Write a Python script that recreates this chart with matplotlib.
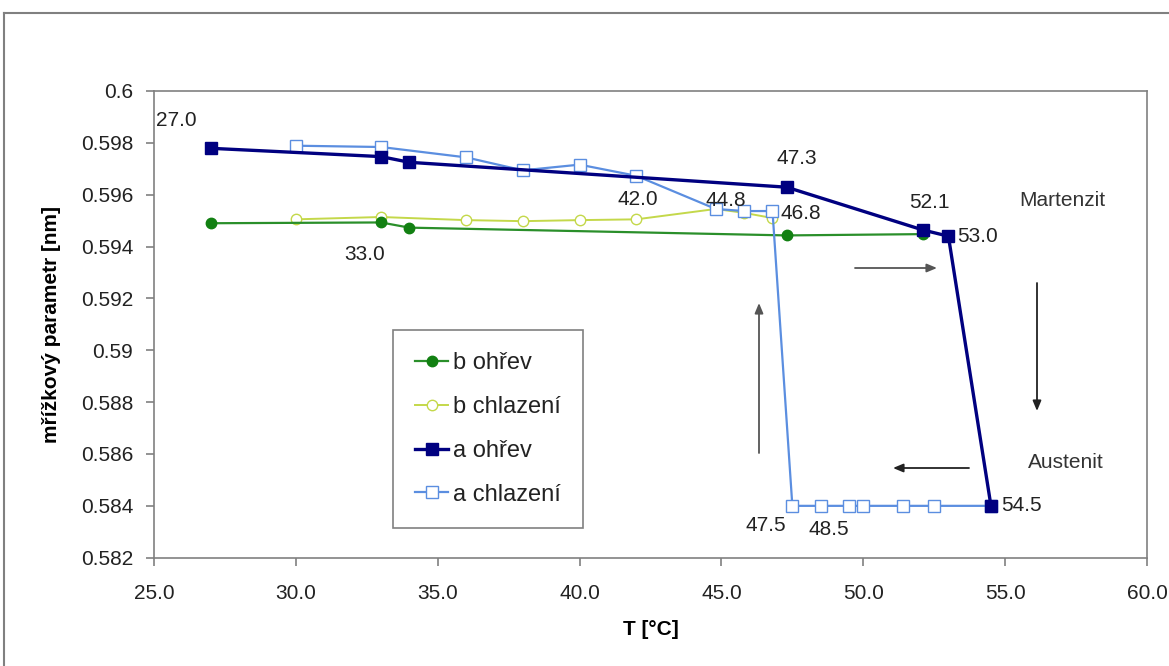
import matplotlib
matplotlib.use("Agg")
import matplotlib.pyplot as plt
from matplotlib.lines import Line2D

plt.rcParams['font.family'] = ['Liberation Sans', 'DejaVu Sans']

# ---- data ----
a_heat_T = [27.0, 33.0, 34.0, 47.3, 52.1, 53.0, 54.5]
a_heat_v = [0.59779, 0.59747, 0.59725, 0.59629, 0.59464, 0.59440, 0.58400]

a_cool_T = [54.5, 52.5, 51.4, 50.0, 49.5, 48.5, 47.5, 46.8, 45.8, 44.8, 42.0, 40.0, 38.0, 36.0, 33.0, 30.0]
a_cool_v = [0.58400, 0.58400, 0.58400, 0.58400, 0.58400, 0.58400, 0.58400,
            0.59537, 0.59537, 0.59545, 0.59673, 0.59716, 0.59694, 0.59744, 0.59784, 0.59789]

b_heat_T = [27.0, 33.0, 34.0, 47.3, 52.1]
b_heat_v = [0.59490, 0.59493, 0.59473, 0.59443, 0.59448]

b_cool_T = [46.8, 45.8, 44.8, 42.0, 40.0, 38.0, 36.0, 33.0, 30.0]
b_cool_v = [0.59510, 0.59530, 0.59545, 0.59505, 0.59502, 0.59498, 0.59502, 0.59514, 0.59505]

series_names = ["b ohřev", "b chlazení", "a ohřev", "a chlazení"]

x_ticks = [25.0, 30.0, 35.0, 40.0, 45.0, 50.0, 55.0, 60.0]
y_ticks = [0.582, 0.584, 0.586, 0.588, 0.59, 0.592, 0.594, 0.596, 0.598, 0.6]
y_tick_labels = ["0.582", "0.584", "0.586", "0.588", "0.59", "0.592", "0.594", "0.596", "0.598", "0.6"]

# point labels: (text, T, value)
point_labels = [
    ("27.0", 27.0, 0.59779), ("33.0", 33.0, 0.59493), ("42.0", 42.0, 0.59673),
    ("44.8", 44.8, 0.59545), ("46.8", 46.8, 0.59537), ("47.3", 47.3, 0.59629),
    ("52.1", 52.1, 0.59464), ("53.0", 53.0, 0.59440), ("54.5", 54.5, 0.58400),
    ("47.5", 47.5, 0.58400), ("48.5", 48.5, 0.58400),
]
# offsets (points) and alignment for labels
label_offsets = {
    "27.0": (-25, 20, 'center'), "33.0": (-12, -23, 'center'), "42.0": (1, -17, 'center'),
    "44.8": (7, 6, 'center'), "46.8": (6, -2, 'left'), "47.3": (7, 21, 'center'),
    "52.1": (5, 20, 'center'), "53.0": (6, 0, 'left'), "54.5": (7, 0, 'left'),
    "47.5": (-19, -14, 'center'), "48.5": (6, -17, 'center'),
}

W, H = 1169, 666
fig = plt.figure(figsize=(W / 100, H / 100), dpi=100)
ax = fig.add_axes([154 / W, 1 - 557.7 / H, (1147 - 154) / W, (557.7 - 91) / H])

grey = '#808080'
ax.plot(b_heat_T, b_heat_v, color='#2a8f2a', lw=1.6, marker='o', ms=7.5,
        mfc='#128012', mec='#128012', label=series_names[0], zorder=3)
ax.plot(b_cool_T, b_cool_v, color='#c4d84a', lw=1.4, marker='o', ms=7.5,
        mfc='white', mec='#c4d84a', mew=1.0, label=series_names[1], zorder=2)
ax.plot(a_cool_T, a_cool_v, color='#5b8ee0', lw=1.6, marker='s', ms=8,
        mfc='white', mec='#5b8ee0', mew=1.0, label=series_names[3], zorder=4)
ax.plot(a_heat_T, a_heat_v, color='#000080', lw=2.4, marker='s', ms=8.5,
        mfc='#000080', mec='#000080', label=series_names[2], zorder=5)

ax.set_xlim(25, 60)
ax.set_ylim(0.582, 0.6)
ax.set_xticks(x_ticks)
ax.set_xticklabels([f"{t:.1f}" for t in x_ticks])
ax.set_yticks(y_ticks)
ax.set_yticklabels(y_tick_labels)
for s in ax.spines.values():
    s.set_color(grey)
    s.set_linewidth(1.2)
ax.tick_params(axis='both', colors=grey, labelcolor='#222222', labelsize=15,
               length=6, width=1.2, direction='out')
ax.tick_params(axis='y', pad=9)
ax.tick_params(axis='x', pad=13)

ax.set_xlabel("T [°C]", fontsize=15, fontweight='bold', labelpad=12)
ax.set_ylabel("mřížkový parametr [nm]", fontsize=15, fontweight='bold', labelpad=14)

for txt, t, v in point_labels:
    dx, dy, ha = label_offsets[txt]
    ax.annotate(txt, (t, v), xytext=(dx, dy), textcoords='offset points',
                ha=ha, va='center', fontsize=15, color='#222222', zorder=6)

ax.text(1062 / W, 1 - 200 / H, "Martenzit", transform=fig.transFigure,
        ha='center', va='center', fontsize=15, color='#333333')
ax.text(1066 / W, 1 - 462 / H, "Austenit", transform=fig.transFigure,
        ha='center', va='center', fontsize=15, color='#333333')

# arrows (figure pixel positions)
arrows = [((855, 268), (937, 268), '#555555'), ((1037, 283), (1037, 411), '#222222'),
          ((969, 468), (893, 468), '#222222'), ((759, 453), (759, 303), '#555555')]
for (x0, y0), (x1, y1), c in arrows:
    fig.add_artist(matplotlib.patches.FancyArrowPatch(
        (x0 / W, 1 - y0 / H), (x1 / W, 1 - y1 / H), transform=fig.transFigure,
        arrowstyle='-|>,head_length=6,head_width=2.5', color=c, lw=1.3,
        shrinkA=0, shrinkB=0))

handles = [
    Line2D([], [], color='#2a8f2a', lw=1.6, marker='o', ms=7.5, mfc='#128012', mec='#128012'),
    Line2D([], [], color='#c4d84a', lw=1.4, marker='o', ms=7.5, mfc='white', mec='#c4d84a'),
    Line2D([], [], color='#000080', lw=2.4, marker='s', ms=8.5, mfc='#000080', mec='#000080'),
    Line2D([], [], color='#5b8ee0', lw=1.6, marker='s', ms=8, mfc='white', mec='#5b8ee0'),
]
leg = fig.legend(handles, series_names, loc='upper left',
                 bbox_to_anchor=(393 / W, 1 - 330 / H), fontsize=17,
                 frameon=True, fancybox=False, edgecolor=grey, framealpha=1,
                 handlelength=1.4, handletextpad=0.2, labelspacing=0.92,
                 borderpad=0.95, borderaxespad=0)
leg.get_frame().set_linewidth(1.2)
for t in leg.get_texts():
    t.set_color('#222222')

# outer chart frame
fig.add_artist(Line2D([4 / W, 4 / W], [0, 1 - 13 / H], transform=fig.transFigure, color=grey, lw=1.5))
fig.add_artist(Line2D([4 / W, 1], [1 - 13 / H, 1 - 13 / H], transform=fig.transFigure, color=grey, lw=1.5))

fig.savefig("out.png", dpi=100)
